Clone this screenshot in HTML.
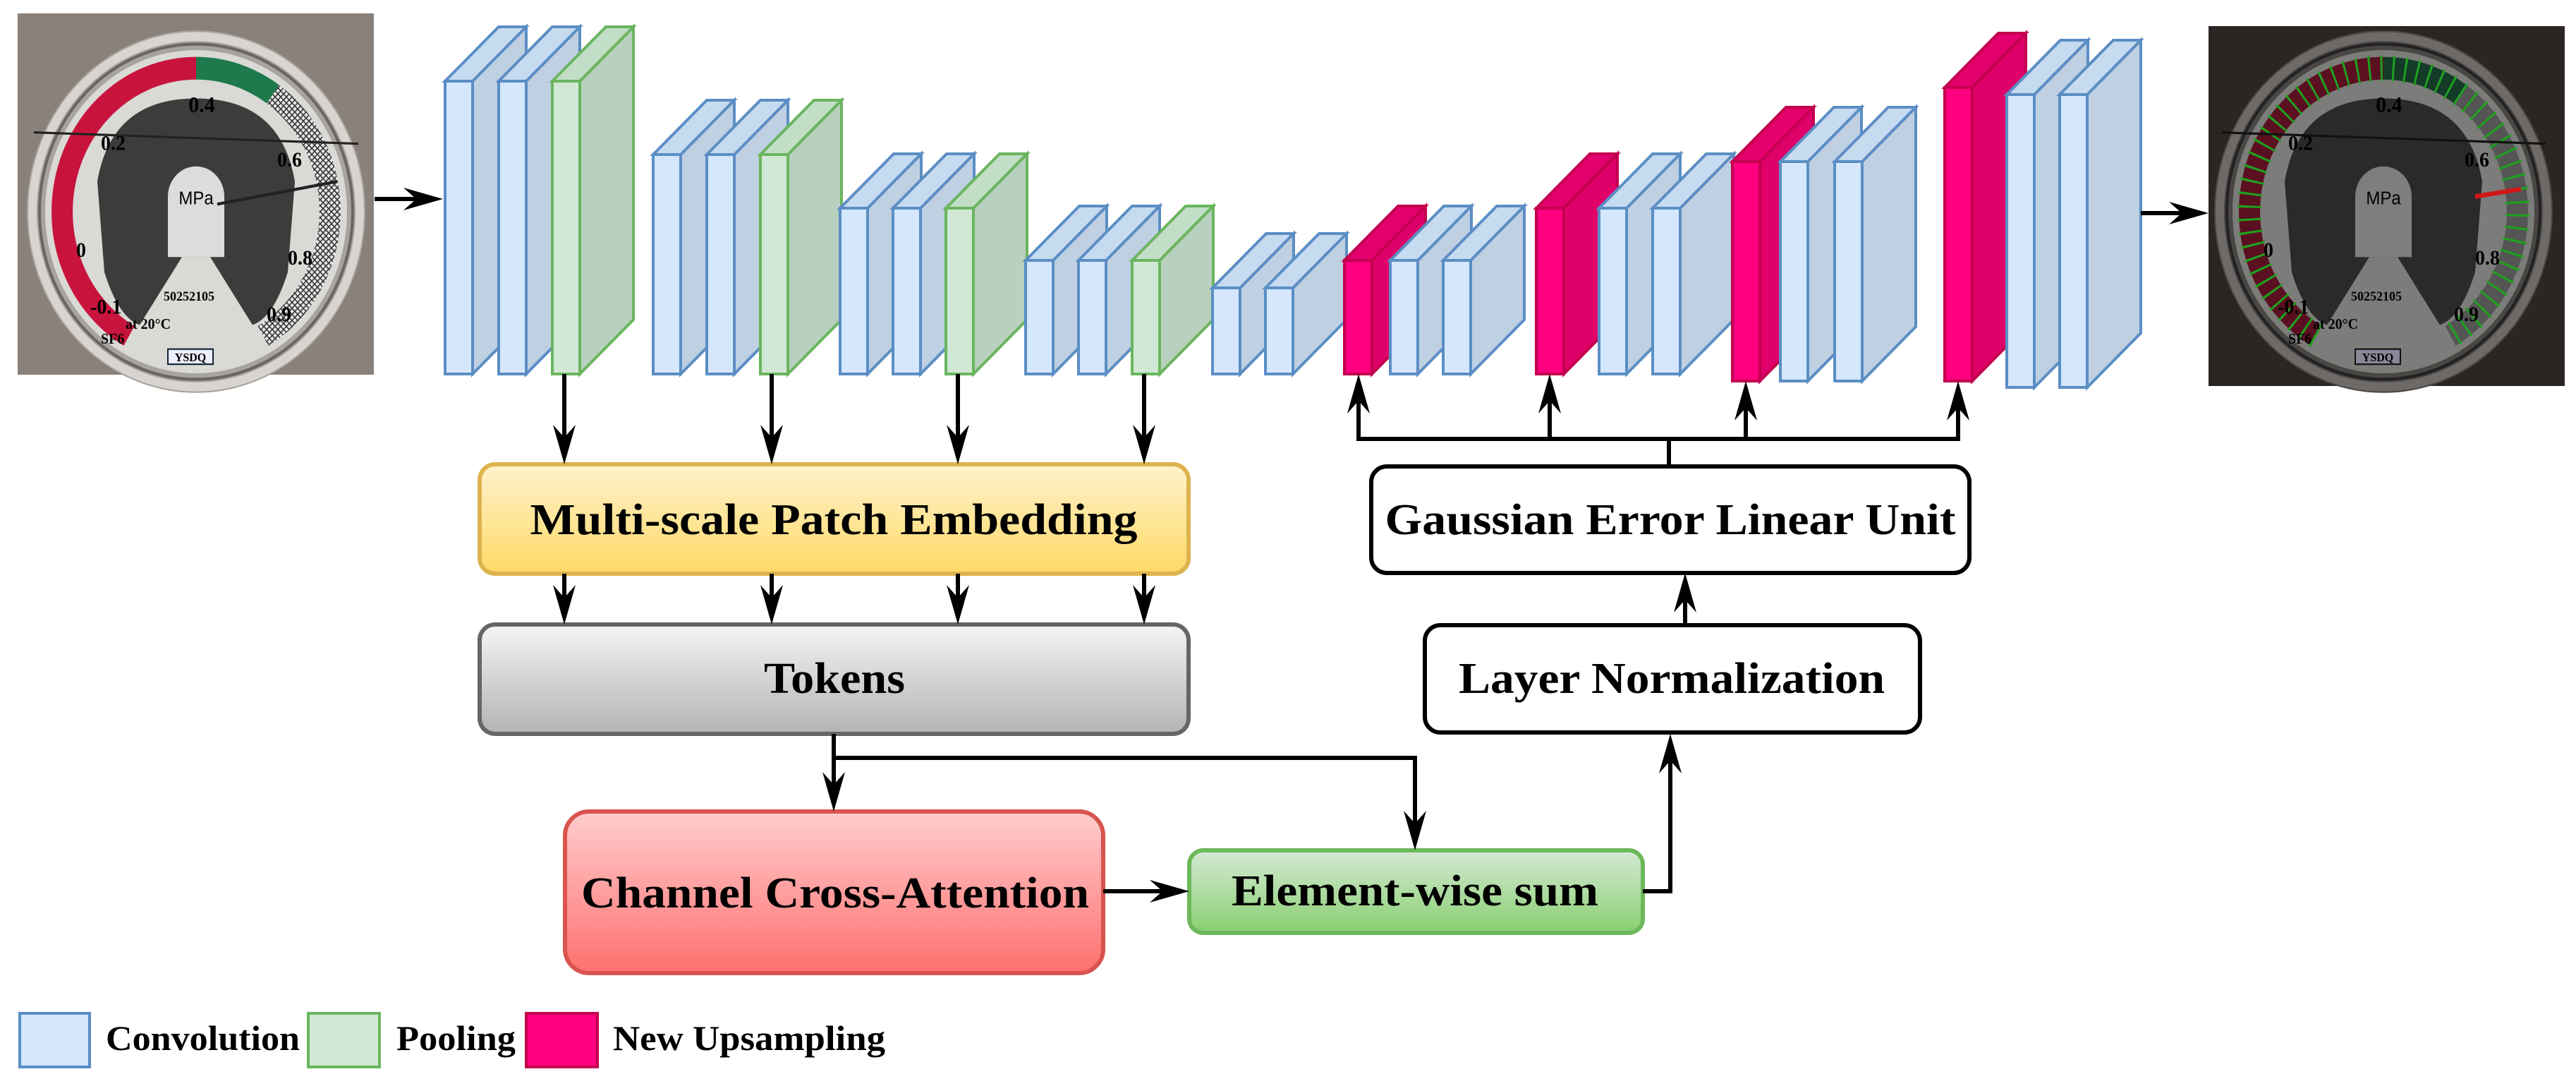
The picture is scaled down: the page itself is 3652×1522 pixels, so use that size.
<!DOCTYPE html>
<html><head><meta charset="utf-8"><style>
html,body{margin:0;padding:0;background:#fff;}
svg{display:block;}
text{font-family:"Liberation Serif",serif;font-weight:bold;fill:#000;}
</style></head><body>
<svg width="3652" height="1522" viewBox="0 0 3652 1522" xmlns="http://www.w3.org/2000/svg">
<defs>
<linearGradient id="gy" x1="0" y1="0" x2="0" y2="1"><stop offset="0" stop-color="#FFF2CC"/><stop offset="1" stop-color="#FFD966"/></linearGradient>
<linearGradient id="gg" x1="0" y1="0" x2="0" y2="1"><stop offset="0" stop-color="#F5F5F5"/><stop offset="1" stop-color="#B3B3B3"/></linearGradient>
<linearGradient id="gr" x1="0" y1="0" x2="0" y2="1"><stop offset="0" stop-color="#FFCCCC"/><stop offset="1" stop-color="#FF7070"/></linearGradient>
<linearGradient id="ge" x1="0" y1="0" x2="0" y2="1"><stop offset="0" stop-color="#D5E8D4"/><stop offset="1" stop-color="#88D070"/></linearGradient>
<pattern id="hatch" width="8" height="8" patternUnits="userSpaceOnUse"><rect width="8" height="8" fill="#e8e8e8"/><path d="M0,0L8,8M8,0L0,8" stroke="#333" stroke-width="1.5"/></pattern>
</defs>

<!-- Left gauge photo -->
<g>
<rect x="25" y="19" width="505" height="512" fill="#8a817b"/>
<g transform="translate(278,300) scale(1,1.07)">
<circle r="240" fill="#a9a39f"/>
<circle r="232" fill="none" stroke="#d8d4d0" stroke-width="12"/>
<circle r="222" fill="none" stroke="#6c6560" stroke-width="4"/>
<circle r="214" fill="#d9d9d6"/>
<path d="M -95 164.5 A 190 190 0 0 1 0 -190" fill="none" stroke="#c8143c" stroke-width="30"/>
<path d="M 0 -190 A 190 190 0 0 1 109 -155.6" fill="none" stroke="#1e7a4c" stroke-width="30"/>
<path d="M 109 -155.6 A 190 190 0 0 1 95 164.5" fill="none" stroke="url(#hatch)" stroke-width="30"/>
<path d="M -140 -40 Q -120 -150 0 -150 Q 120 -150 140 -40 L 130 80 Q 110 140 80 150 L 20 60 L -20 60 L -80 150 Q -110 140 -130 80 Z" fill="#3e3c3b"/>
<path d="M -40 60 L -40 -20 A 40 40 0 0 1 40 -20 L 40 60 Z" fill="#dcdcdc"/>
<line x1="-230" y1="-105" x2="230" y2="-90" stroke="#222" stroke-width="3"/>
<line x1="30" y1="-10" x2="200" y2="-40" stroke="#222" stroke-width="4"/>
<text x="0" y="-10" font-size="24" text-anchor="middle" style="font-family:'Liberation Sans',sans-serif;font-weight:normal">MPa</text>
<text x="8" y="-132" font-size="30" text-anchor="middle">0.4</text>
<text x="-135" y="-82" font-size="28">0.2</text>
<text x="115" y="-60" font-size="28">0.6</text>
<text x="-170" y="60" font-size="28">0</text>
<text x="130" y="70" font-size="28">0.8</text>
<text x="-150" y="135" font-size="28">-0.1</text>
<text x="100" y="145" font-size="28">0.9</text>
<text x="-135" y="175" font-size="20">SF6</text>
<text x="-100" y="155" font-size="20">at 20°C</text>
<text x="-10" y="118" font-size="18" fill="#777" text-anchor="middle">50252105</text>
<rect x="-40" y="182" width="64" height="20" fill="#eef" stroke="#123" stroke-width="2"/>
<text x="-8" y="198" font-size="16" text-anchor="middle">YSDQ</text>
</g>
</g>

<!-- Right gauge photo (dark) -->
<g>
<rect x="3131" y="37" width="505" height="510" fill="#2b2624"/>
<g transform="translate(3379,300) scale(1,1.07)">
<circle r="240" fill="#4a4644"/>
<circle r="232" fill="none" stroke="#6d6a68" stroke-width="12"/>
<circle r="222" fill="none" stroke="#222" stroke-width="4"/>
<circle r="214" fill="#7c7c7a"/>
<path d="M -95 164.5 A 190 190 0 0 1 0 -190" fill="none" stroke="#5a1020" stroke-width="30"/>
<path d="M 0 -190 A 190 190 0 0 1 109 -155.6" fill="none" stroke="#143a28" stroke-width="30"/>
<path d="M 109 -155.6 A 190 190 0 0 1 95 164.5" fill="none" stroke="#555" stroke-width="30"/>
<path d="M -95 164.5 A 190 190 0 1 1 95 164.5" fill="none" stroke="#1fa01f" stroke-width="34" stroke-dasharray="3 14"/>
<path d="M -140 -40 Q -120 -150 0 -150 Q 120 -150 140 -40 L 130 80 Q 110 140 80 150 L 20 60 L -20 60 L -80 150 Q -110 140 -130 80 Z" fill="#2c2a29"/>
<path d="M -40 60 L -40 -20 A 40 40 0 0 1 40 -20 L 40 60 Z" fill="#7e7e7c"/>
<line x1="-230" y1="-105" x2="230" y2="-90" stroke="#111" stroke-width="3"/>
<line x1="130" y1="-20" x2="195" y2="-30" stroke="#d01818" stroke-width="6"/>
<text x="0" y="-10" font-size="24" text-anchor="middle" style="font-family:'Liberation Sans',sans-serif;font-weight:normal">MPa</text>
<text x="8" y="-132" font-size="30" text-anchor="middle">0.4</text>
<text x="-135" y="-82" font-size="28">0.2</text>
<text x="115" y="-60" font-size="28">0.6</text>
<text x="-170" y="60" font-size="28">0</text>
<text x="130" y="70" font-size="28">0.8</text>
<text x="-150" y="135" font-size="28">-0.1</text>
<text x="100" y="145" font-size="28">0.9</text>
<text x="-135" y="175" font-size="20">SF6</text>
<text x="-100" y="155" font-size="20">at 20°C</text>
<text x="-10" y="118" font-size="18" fill="#444" text-anchor="middle">50252105</text>
<rect x="-40" y="182" width="64" height="20" fill="#889" stroke="#111" stroke-width="2"/>
<text x="-8" y="198" font-size="16" text-anchor="middle">YSDQ</text>
</g>
</g>

<!-- Slabs -->
<g stroke-width="4" stroke-linejoin="miter">
<g stroke="#5B8EC4"><polygon points="670,115 746,38 746,453 670,530" fill="#BED0E2"/><polygon points="631,115 707,38 746,38 670,115" fill="#C6DBF0"/><rect x="631" y="115" width="39" height="415" fill="#D4E7FC"/></g>
<g stroke="#5B8EC4"><polygon points="746,115 822,38 822,453 746,530" fill="#BED0E2"/><polygon points="707,115 783,38 822,38 746,115" fill="#C6DBF0"/><rect x="707" y="115" width="39" height="415" fill="#D4E7FC"/></g>
<g stroke="#6AB55F"><polygon points="822,115 898,38 898,453 822,530" fill="#B8D0BE"/><polygon points="783,115 859,38 898,38 822,115" fill="#C2DEC7"/><rect x="783" y="115" width="39" height="415" fill="#D0E8D4"/></g>

<g stroke="#5B8EC4"><polygon points="965,219 1041,142 1041,453 965,530" fill="#BED0E2"/><polygon points="926,219 1002,142 1041,142 965,219" fill="#C6DBF0"/><rect x="926" y="219" width="39" height="311" fill="#D4E7FC"/></g>
<g stroke="#5B8EC4"><polygon points="1041,219 1117,142 1117,453 1041,530" fill="#BED0E2"/><polygon points="1002,219 1078,142 1117,142 1041,219" fill="#C6DBF0"/><rect x="1002" y="219" width="39" height="311" fill="#D4E7FC"/></g>
<g stroke="#6AB55F"><polygon points="1117,219 1193,142 1193,453 1117,530" fill="#B8D0BE"/><polygon points="1078,219 1154,142 1193,142 1117,219" fill="#C2DEC7"/><rect x="1078" y="219" width="39" height="311" fill="#D0E8D4"/></g>

<g stroke="#5B8EC4"><polygon points="1230,295 1306,218 1306,453 1230,530" fill="#BED0E2"/><polygon points="1191,295 1267,218 1306,218 1230,295" fill="#C6DBF0"/><rect x="1191" y="295" width="39" height="235" fill="#D4E7FC"/></g>
<g stroke="#5B8EC4"><polygon points="1305,295 1381,218 1381,453 1305,530" fill="#BED0E2"/><polygon points="1266,295 1342,218 1381,218 1305,295" fill="#C6DBF0"/><rect x="1266" y="295" width="39" height="235" fill="#D4E7FC"/></g>
<g stroke="#6AB55F"><polygon points="1380,295 1456,218 1456,453 1380,530" fill="#B8D0BE"/><polygon points="1341,295 1417,218 1456,218 1380,295" fill="#C2DEC7"/><rect x="1341" y="295" width="39" height="235" fill="#D0E8D4"/></g>

<g stroke="#5B8EC4"><polygon points="1493,369 1569,292 1569,453 1493,530" fill="#BED0E2"/><polygon points="1454,369 1530,292 1569,292 1493,369" fill="#C6DBF0"/><rect x="1454" y="369" width="39" height="161" fill="#D4E7FC"/></g>
<g stroke="#5B8EC4"><polygon points="1568,369 1644,292 1644,453 1568,530" fill="#BED0E2"/><polygon points="1529,369 1605,292 1644,292 1568,369" fill="#C6DBF0"/><rect x="1529" y="369" width="39" height="161" fill="#D4E7FC"/></g>
<g stroke="#6AB55F"><polygon points="1644,369 1720,292 1720,453 1644,530" fill="#B8D0BE"/><polygon points="1605,369 1681,292 1720,292 1644,369" fill="#C2DEC7"/><rect x="1605" y="369" width="39" height="161" fill="#D0E8D4"/></g>

<g stroke="#5B8EC4"><polygon points="1758,408 1834,331 1834,453 1758,530" fill="#BED0E2"/><polygon points="1719,408 1795,331 1834,331 1758,408" fill="#C6DBF0"/><rect x="1719" y="408" width="39" height="122" fill="#D4E7FC"/></g>
<g stroke="#5B8EC4"><polygon points="1833,408 1909,331 1909,453 1833,530" fill="#BED0E2"/><polygon points="1794,408 1870,331 1909,331 1833,408" fill="#C6DBF0"/><rect x="1794" y="408" width="39" height="122" fill="#D4E7FC"/></g>

<g stroke="#C3004F"><polygon points="1945,369 2021,292 2021,453 1945,530" fill="#E0006A"/><polygon points="1906,369 1982,292 2021,292 1945,369" fill="#E3006E"/><rect x="1906" y="369" width="39" height="161" fill="#FF0080"/></g>
<g stroke="#5B8EC4"><polygon points="2010,369 2086,292 2086,453 2010,530" fill="#BED0E2"/><polygon points="1971,369 2047,292 2086,292 2010,369" fill="#C6DBF0"/><rect x="1971" y="369" width="39" height="161" fill="#D4E7FC"/></g>
<g stroke="#5B8EC4"><polygon points="2085,369 2161,292 2161,453 2085,530" fill="#BED0E2"/><polygon points="2046,369 2122,292 2161,292 2085,369" fill="#C6DBF0"/><rect x="2046" y="369" width="39" height="161" fill="#D4E7FC"/></g>

<g stroke="#C3004F"><polygon points="2217,295 2293,218 2293,453 2217,530" fill="#E0006A"/><polygon points="2178,295 2254,218 2293,218 2217,295" fill="#E3006E"/><rect x="2178" y="295" width="39" height="235" fill="#FF0080"/></g>
<g stroke="#5B8EC4"><polygon points="2306,295 2382,218 2382,453 2306,530" fill="#BED0E2"/><polygon points="2267,295 2343,218 2382,218 2306,295" fill="#C6DBF0"/><rect x="2267" y="295" width="39" height="235" fill="#D4E7FC"/></g>
<g stroke="#5B8EC4"><polygon points="2382,295 2458,218 2458,453 2382,530" fill="#BED0E2"/><polygon points="2343,295 2419,218 2458,218 2382,295" fill="#C6DBF0"/><rect x="2343" y="295" width="39" height="235" fill="#D4E7FC"/></g>

<g stroke="#C3004F"><polygon points="2495,229 2571,152 2571,463 2495,540" fill="#E0006A"/><polygon points="2456,229 2532,152 2571,152 2495,229" fill="#E3006E"/><rect x="2456" y="229" width="39" height="311" fill="#FF0080"/></g>
<g stroke="#5B8EC4"><polygon points="2563,229 2639,152 2639,463 2563,540" fill="#BED0E2"/><polygon points="2524,229 2600,152 2639,152 2563,229" fill="#C6DBF0"/><rect x="2524" y="229" width="39" height="311" fill="#D4E7FC"/></g>
<g stroke="#5B8EC4"><polygon points="2640,229 2716,152 2716,463 2640,540" fill="#BED0E2"/><polygon points="2601,229 2677,152 2716,152 2640,229" fill="#C6DBF0"/><rect x="2601" y="229" width="39" height="311" fill="#D4E7FC"/></g>

<g stroke="#C3004F"><polygon points="2796,124 2872,47 2872,463 2796,540" fill="#E0006A"/><polygon points="2757,124 2833,47 2872,47 2796,124" fill="#E3006E"/><rect x="2757" y="124" width="39" height="416" fill="#FF0080"/></g>
<g stroke="#5B8EC4"><polygon points="2884,134 2960,57 2960,472 2884,549" fill="#BED0E2"/><polygon points="2845,134 2921,57 2960,57 2884,134" fill="#C6DBF0"/><rect x="2845" y="134" width="39" height="415" fill="#D4E7FC"/></g>
<g stroke="#5B8EC4"><polygon points="2959,134 3035,57 3035,472 2959,549" fill="#BED0E2"/><polygon points="2920,134 2996,57 3035,57 2959,134" fill="#C6DBF0"/><rect x="2920" y="134" width="39" height="415" fill="#D4E7FC"/></g>
</g>

<!-- Boxes -->
<rect x="680" y="658" width="1005" height="155" rx="22" fill="url(#gy)" stroke="#DDB34E" stroke-width="6"/>
<text x="1182" y="757" font-size="62" text-anchor="middle" textLength="861" lengthAdjust="spacingAndGlyphs">Multi-scale Patch Embedding</text>
<rect x="680" y="885" width="1005" height="155" rx="22" fill="url(#gg)" stroke="#666666" stroke-width="6"/>
<text x="1183" y="982" font-size="62" text-anchor="middle" textLength="200" lengthAdjust="spacingAndGlyphs">Tokens</text>
<rect x="801" y="1150" width="763" height="229" rx="34" fill="url(#gr)" stroke="#D9534F" stroke-width="6"/>
<text x="1184" y="1286" font-size="62" text-anchor="middle" textLength="720" lengthAdjust="spacingAndGlyphs">Channel Cross-Attention</text>
<rect x="1686" y="1205" width="643" height="117" rx="20" fill="url(#ge)" stroke="#6DB85A" stroke-width="6"/>
<text x="2006" y="1283" font-size="62" text-anchor="middle" textLength="520" lengthAdjust="spacingAndGlyphs">Element-wise sum</text>
<rect x="2020" y="886" width="702" height="152" rx="22" fill="#fff" stroke="#000" stroke-width="6"/>
<text x="2370" y="982" font-size="62" text-anchor="middle" textLength="604" lengthAdjust="spacingAndGlyphs">Layer Normalization</text>
<rect x="1944" y="661" width="848" height="151" rx="22" fill="#fff" stroke="#000" stroke-width="6"/>
<text x="2368" y="757" font-size="62" text-anchor="middle" textLength="809" lengthAdjust="spacingAndGlyphs">Gaussian Error Linear Unit</text>

<!-- Connectors -->
<g stroke="#000" stroke-width="6" fill="none">
<line x1="531" y1="282" x2="600" y2="282"/>
<line x1="3035" y1="302" x2="3105" y2="302"/>
<line x1="800" y1="530" x2="800" y2="630"/><line x1="1094" y1="530" x2="1094" y2="630"/><line x1="1358" y1="530" x2="1358" y2="630"/><line x1="1622" y1="530" x2="1622" y2="630"/>
<line x1="800" y1="813" x2="800" y2="858"/><line x1="1094" y1="813" x2="1094" y2="858"/><line x1="1358" y1="813" x2="1358" y2="858"/><line x1="1622" y1="813" x2="1622" y2="858"/>
<line x1="1182" y1="1040" x2="1182" y2="1122"/>
<polyline points="1182,1074 2006,1074 2006,1178"/>
<line x1="1564" y1="1263" x2="1660" y2="1263"/>
<polyline points="2329,1263 2368,1263 2368,1068"/>
<line x1="2389" y1="886" x2="2389" y2="840"/>
<line x1="2366" y1="661" x2="2366" y2="622"/>
<polyline points="1926,560 1926,622 2776,622 2776,570"/>
<line x1="2197" y1="622" x2="2197" y2="560"/>
<line x1="2475" y1="622" x2="2475" y2="570"/>
</g>
<g fill="#000">
<!-- right arrows -->
<path d="M628,282 L572,266 L590,282 L572,298 Z"/>
<path d="M3131,302 L3075,286 L3093,302 L3075,318 Z"/>
<path d="M1686,1263 L1630,1247 L1648,1263 L1630,1279 Z"/>
<!-- down arrows -->
<path d="M800,658 L784,602 L800,620 L816,602 Z"/>
<path d="M1094,658 L1078,602 L1094,620 L1110,602 Z"/>
<path d="M1358,658 L1342,602 L1358,620 L1374,602 Z"/>
<path d="M1622,658 L1606,602 L1622,620 L1638,602 Z"/>
<path d="M800,885 L784,829 L800,847 L816,829 Z"/>
<path d="M1094,885 L1078,829 L1094,847 L1110,829 Z"/>
<path d="M1358,885 L1342,829 L1358,847 L1374,829 Z"/>
<path d="M1622,885 L1606,829 L1622,847 L1638,829 Z"/>
<path d="M1182,1150 L1166,1094 L1182,1112 L1198,1094 Z"/>
<path d="M2006,1205 L1990,1149 L2006,1167 L2022,1149 Z"/>
<!-- up arrows -->
<path d="M2368,1040 L2352,1096 L2368,1078 L2384,1096 Z"/>
<path d="M2389,812 L2373,868 L2389,850 L2405,868 Z"/>
<path d="M1926,530 L1910,586 L1926,568 L1942,586 Z"/>
<path d="M2197,530 L2181,586 L2197,568 L2213,586 Z"/>
<path d="M2475,540 L2459,596 L2475,578 L2491,596 Z"/>
<path d="M2776,540 L2760,596 L2776,578 L2792,596 Z"/>
</g>

<!-- Legend -->
<rect x="28" y="1436" width="99" height="76" fill="#D4E7FC" stroke="#5B8EC4" stroke-width="4"/>
<text x="150" y="1488" font-size="50" textLength="275" lengthAdjust="spacingAndGlyphs">Convolution</text>
<rect x="437" y="1436" width="101" height="76" fill="#D0E8D4" stroke="#6AB55F" stroke-width="4"/>
<text x="562" y="1488" font-size="50" textLength="169" lengthAdjust="spacingAndGlyphs">Pooling</text>
<rect x="746" y="1436" width="101" height="76" fill="#FF0080" stroke="#C3004F" stroke-width="4"/>
<text x="869" y="1488" font-size="50" textLength="386" lengthAdjust="spacingAndGlyphs">New Upsampling</text>
</svg>
</body></html>
